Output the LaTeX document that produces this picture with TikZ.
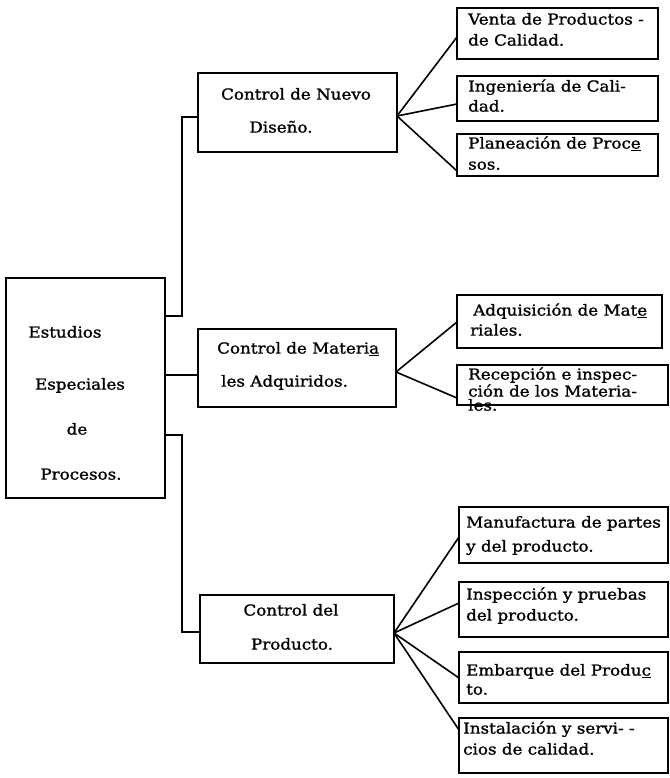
\documentclass[tikz,border=0pt]{standalone}
\usepackage{fontspec}
\setmainfont[FakeStretch=1.1,FakeBold=1.2]{DejaVu Serif}
\usetikzlibrary{fit}
\newcommand\ulmark[1]{\underline{#1}}
\begin{document}
\begin{tikzpicture}[x=1pt,y=-1pt,
  box/.style={draw, line width=1.7pt, inner sep=0pt, outer sep=0pt},
  conn/.style={line width=1.6pt},
  txt/.style={inner sep=0pt, font=\fontsize{15.2}{18}\selectfont},
  ltxt/.style={txt, anchor=mid west},
  ctxt/.style={txt, anchor=mid}]
\useasboundingbox (0,0) rectangle (669,778);

% left box
\node[box, fit={(6,278) (165,498)}] (L) {};
\node[ctxt] (l1) at (65,335) {Estudios};
\node[ctxt] (l2) at (80,387) {Especiales};
\node[ctxt] (l3) at (77,432) {de};
\node[ctxt] (l4) at (81,477) {Procesos.};

% middle boxes
\node[box, fit={(198,73) (397,152)}] (M1) {};
\node[ctxt] (m1a) at (296,97) {Control de Nuevo};
\node[ctxt] (m1b) at (281,130) {Diseño.};

\node[box, fit={(198,329) (396,407)}] (M2) {};
\node[ltxt] (m2a) at (217,351) {Control de Materi\ulmark{a}};
\node[ltxt] (m2b) at (221,384) {les Adquiridos.};

\node[box, fit={(200,595) (394,663)}] (M3) {};
\node[ctxt] (m3a) at (291,613) {Control del};
\node[ctxt] (m3b) at (292,647) {Producto.};

% right boxes group 1
\node[box, fit={(457,8) (658,59)}] (R1) {};
\node[ltxt] (r1a) at (468,22) {Venta de Productos -};
\node[ltxt] (r1b) at (468,43) {de Calidad.};
\node[box, fit={(457,76) (658,121)}] (R2) {};
\node[ltxt] (r2a) at (468,89) {Ingeniería de Cali-};
\node[ltxt] (r2b) at (468,109) {dad.};
\node[box, fit={(457,134) (658,176)}] (R3) {};
\node[ltxt] (r3a) at (468,146) {Planeación de Proc\ulmark{e}};
\node[ltxt] (r3b) at (468,167) {sos.};

% right boxes group 2
\node[box, fit={(457,295) (662,348)}] (R4) {};
\node[ltxt] (r4a) at (473,313) {Adquisición de Mat\ulmark{e}};
\node[ltxt] (r4b) at (470,333) {riales.};
\node[box, fit={(457,365) (668,405)}] (R5) {};
\node[ltxt] (r5a) at (468,377) {Recepción e inspec-};
\node[ltxt] (r5b) at (468,394) {ción de los Materia-};
\node[ltxt] (r5c) at (468,408) {les.};

% right boxes group 3
\node[box, fit={(459,507) (668,563)}] (R6) {};
\node[ltxt] (r6a) at (466,525) {Manufactura de partes};
\node[ltxt] (r6b) at (466,549) {y del producto.};
\node[box, fit={(459,582) (668,637)}] (R7) {};
\node[ltxt] (r7a) at (466,597) {Inspección y pruebas};
\node[ltxt] (r7b) at (466,618) {del producto.};
\node[box, fit={(459,652) (668,703)}] (R8) {};
\node[ltxt] (r8a) at (466,673) {Embarque del Produ\ulmark{c}};
\node[ltxt] (r8b) at (466,692) {to.};
\node[box, fit={(459,718) (668,773)}] (R9) {};
\node[ltxt] (r9a) at (463,731) {Instalación y servi- -};
\node[ltxt] (r9b) at (463,752) {cios de calidad.};

% connector points
\coordinate (a1) at (165,316);
\coordinate (a2) at (165,375);
\coordinate (a3) at (165,435);
\coordinate (b1) at (198,117);
\coordinate (b2) at (198,375);
\coordinate (b3) at (200,632);
\coordinate (f1) at (397,116);
\coordinate (f2) at (396,372);
\coordinate (f3) at (394,633);
\coordinate (e1) at (457,37);
\coordinate (e2) at (457,104);
\coordinate (e3) at (457,171);
\coordinate (e4) at (457,322);
\coordinate (e5) at (457,398);
\coordinate (e6) at (459,537);
\coordinate (e7) at (459,603);
\coordinate (e8) at (459,678);
\coordinate (e9) at (459,730);

\draw[conn] (a1) -- (182,316) -- (182,117) -- (b1);
\draw[conn] (a2) -- (b2);
\draw[conn] (a3) -- (182,435) -- (182,632) -- (b3);

\foreach \e in {e1,e2,e3} \draw[conn] (f1) -- (\e);
\foreach \e in {e4,e5} \draw[conn] (f2) -- (\e);
\foreach \e in {e6,e7,e8,e9} \draw[conn] (f3) -- (\e);
\end{tikzpicture}
\end{document}
